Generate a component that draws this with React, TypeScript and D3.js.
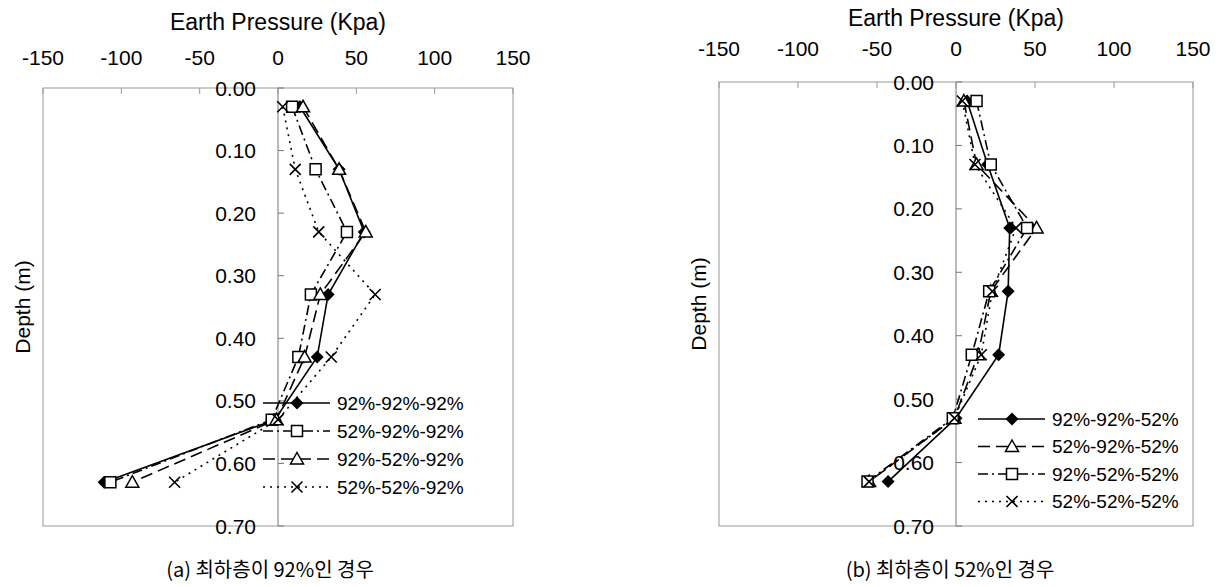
import React from "react";
import * as d3 from "d3";

// depth of each pressure cell (m)
const depths = [0.03, 0.13, 0.23, 0.33, 0.43, 0.53, 0.63];
const pressureTicks = [-150, -100, -50, 0, 50, 100, 150];
const depthTicks = [0, 0.1, 0.2, 0.3, 0.4, 0.5, 0.6, 0.7];

// (a) bottom layer 92%
const namesA = ["92%-92%-92%", "52%-92%-92%", "92%-52%-92%", "52%-52%-92%"];
const a929292 = [14, 39, 55, 32, 25, -2, -111];
const a529292 = [9, 24, 44, 21, 13, -4, -107];
const a925292 = [16, 39, 56, 27, 17, -1, -93];
const a525292 = [3, 11, 26, 62, 34, 0, -66];

// (b) bottom layer 52%
const namesB = ["92%-92%-52%", "52%-92%-52%", "92%-52%-52%", "52%-52%-52%"];
const b929252 = [7, 20, 34, 33, 27, 0, -43];
const b529252 = [5, 13, 51, 22, 14, -1, -55];
const b925252 = [13, 22, 45, 21, 10, -2, -56];
const b525252 = [4, 12, 38, 23, 16, -1, -55];

const FONT = "'Liberation Sans', Arial, sans-serif";

// line styles
const dashes: Record<string, string | undefined> = {
  solid: undefined,
  dash: "12,6",
  dashdot: "10,4,2,4",
  dot: "2,5",
};

function Marker({ kind, x, y }: { kind: string; x: number; y: number }) {
  const t = `translate(${x},${y})`;
  if (kind === "diamond") return <path transform={t} d="M0,-6.5L6.5,0L0,6.5L-6.5,0Z" fill="#000" />;
  if (kind === "square")
    return <path transform={t} d="M-5.5,-5.5h11v11h-11Z" fill="#fff" stroke="#000" strokeWidth={1.5} />;
  if (kind === "triangle")
    return <path transform={t} d="M0,-6.5L6.5,5L-6.5,5Z" fill="#fff" stroke="#000" strokeWidth={1.5} />;
  return <path transform={t} d="M-5.5,-5.5L5.5,5.5M5.5,-5.5L-5.5,5.5" stroke="#000" strokeWidth={1.6} fill="none" />;
}

type Series = { name: string; values: number[]; marker: string; dash: string };

function Panel(props: {
  left: number; right: number; top: number; bottom: number;
  titleY: number; tickY: number; yTitleX: number;
  legendX: number; legendY: number; legendStep: number;
  caption: string; captionX: number; captionY: number;
  series: Series[];
}) {
  const { left, right, top, bottom, series } = props;
  const x = d3.scaleLinear().domain([-150, 150]).range([left, right]);
  const y = d3.scaleLinear().domain([0, 0.7]).range([top, bottom]);
  const x0 = x(0);
  const line = d3.line<number>().x((v) => x(v)).y((_, i) => y(depths[i]));
  const fmt = d3.format(".2f");

  return (
    <g>
      <rect x={left} y={top} width={right - left} height={bottom - top} fill="none" stroke="#999" strokeWidth={1} />
      <line x1={x0} x2={x0} y1={top} y2={bottom} stroke="#777" strokeWidth={1} />
      {pressureTicks.map((t) => (
        <g key={t}>
          <line x1={x(t)} x2={x(t)} y1={top} y2={top + 6} stroke="#999" />
          <text x={x(t)} y={props.tickY} textAnchor="middle" dominantBaseline="central" fontSize={21} fontFamily={FONT}>{t}</text>
        </g>
      ))}
      <text x={x0} y={props.titleY} textAnchor="middle" dominantBaseline="central" fontSize={23} fontFamily={FONT}>Earth Pressure (Kpa)</text>
      {depthTicks.map((d) => (
        <g key={d}>
          <line x1={x0} x2={x0 + 6} y1={y(d)} y2={y(d)} stroke="#777" />
          <text x={x0 - 22} y={y(d)} textAnchor="end" dominantBaseline="central" fontSize={21} fontFamily={FONT}>{fmt(d)}</text>
        </g>
      ))}
      <text transform={`translate(${props.yTitleX},${(top + bottom) / 2}) rotate(-90)`} textAnchor="middle" dominantBaseline="central" fontSize={21} fontFamily={FONT}>Depth (m)</text>

      {series.map((s) => (
        <path key={s.name} d={line(s.values) || ""} fill="none" stroke="#000" strokeWidth={1.6} strokeDasharray={dashes[s.dash]} />
      ))}
      {series.map((s) => (
        <g key={s.name + "m"}>
          {s.values.map((v, i) => <Marker key={i} kind={s.marker} x={x(v)} y={y(depths[i])} />)}
        </g>
      ))}

      {series.map((s, i) => {
        const ly = props.legendY + i * props.legendStep;
        const lx = props.legendX;
        return (
          <g key={s.name + "l"}>
            <line x1={lx} x2={lx + 67} y1={ly} y2={ly} stroke="#000" strokeWidth={1.6} strokeDasharray={dashes[s.dash]} />
            <Marker kind={s.marker} x={lx + 34} y={ly} />
            <text x={lx + 74} y={ly} dominantBaseline="central" fontSize={19} fontFamily={FONT}>{s.name}</text>
          </g>
        );
      })}

      <text x={props.captionX} y={props.captionY} textAnchor="middle" dominantBaseline="central" fontSize={20} fontFamily="'Noto Sans CJK KR', sans-serif">{props.caption}</text>
    </g>
  );
}

export default function App() {
  const seriesA: Series[] = [
    { name: namesA[0], values: a929292, marker: "diamond", dash: "solid" },
    { name: namesA[1], values: a529292, marker: "square", dash: "dashdot" },
    { name: namesA[2], values: a925292, marker: "triangle", dash: "dash" },
    { name: namesA[3], values: a525292, marker: "x", dash: "dot" },
  ];
  const seriesB: Series[] = [
    { name: namesB[0], values: b929252, marker: "diamond", dash: "solid" },
    { name: namesB[1], values: b529252, marker: "triangle", dash: "dash" },
    { name: namesB[2], values: b925252, marker: "square", dash: "dashdot" },
    { name: namesB[3], values: b525252, marker: "x", dash: "dot" },
  ];

  return (
    <svg width={1218} height={587} style={{ position: "absolute", left: 0, top: 0, background: "#fff" }}>
      <Panel left={43} right={513} top={88} bottom={526} titleY={22} tickY={57} yTitleX={22}
        legendX={263} legendY={403} legendStep={28}
        caption="(a) 최하층이 92%인 경우" captionX={270} captionY={568} series={seriesA} />
      <Panel left={719} right={1193} top={82} bottom={526} titleY={18} tickY={48} yTitleX={698}
        legendX={978} legendY={419} legendStep={27.5}
        caption="(b) 최하층이 52%인 경우" captionX={950} captionY={568} series={seriesB} />
    </svg>
  );
}
